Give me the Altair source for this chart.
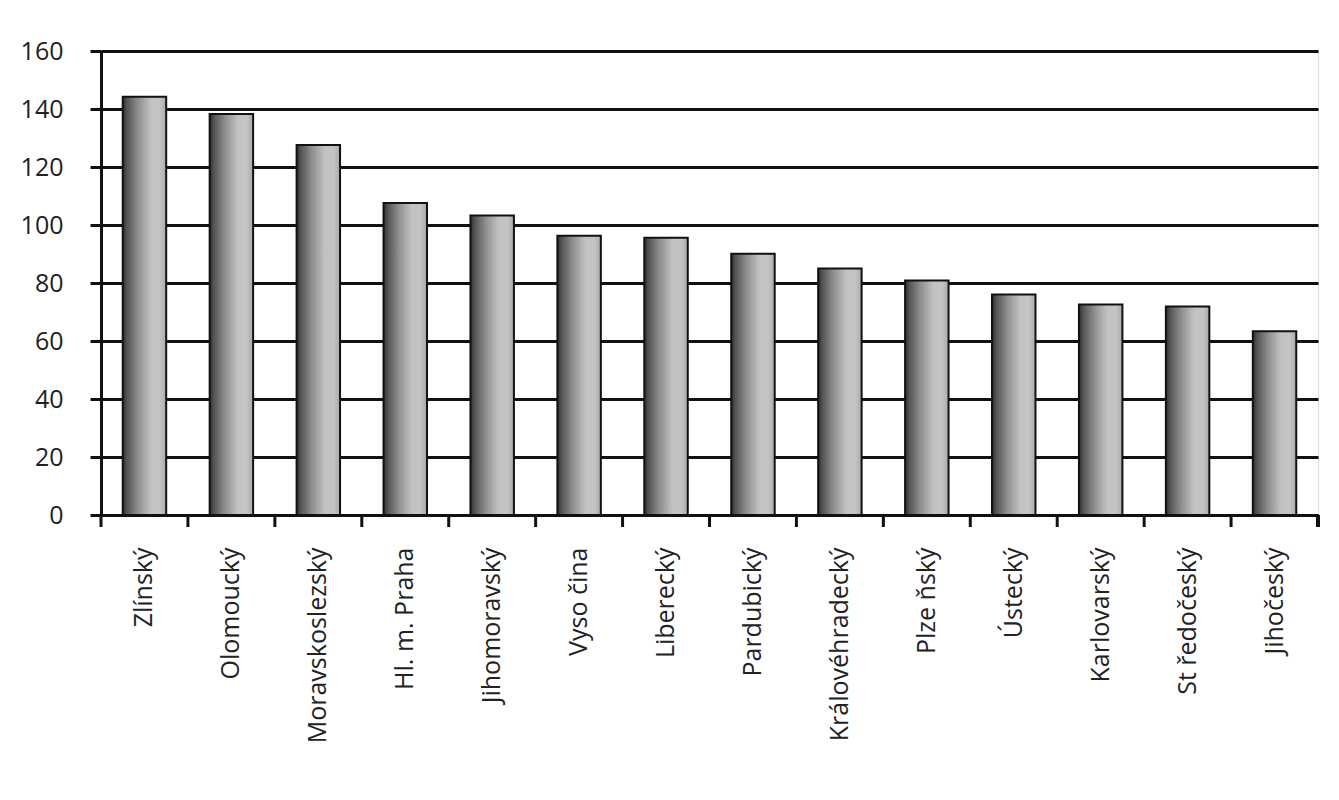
import altair as alt
import pandas as pd

regions = ["Zlínský", "Olomoucký", "Moravskoslezský", "Hl. m. Praha", "Jihomoravský",
           "Vyso čina", "Liberecký", "Pardubický", "Královéhradecký", "Plze ňský",
           "Ústecký", "Karlovarský", "St ředočeský", "Jihočeský"]
values = [144.2, 138.3, 127.6, 107.6, 103.3, 96.3, 95.6, 90.1, 85.0, 80.9, 76.0, 72.6, 71.9, 63.4]

df = pd.DataFrame({"region": regions, "value": values})

W, H = 1217, 464
STEP = W / len(regions)
FONT = "Open Sans"

grad = alt.Gradient(
    gradient="linear", x1=0, x2=1, y1=0, y2=0,
    stops=[
        alt.GradientStop(color="#2e2e2e", offset=0.0),
        alt.GradientStop(color="#555555", offset=0.1),
        alt.GradientStop(color="#8e8e8e", offset=0.35),
        alt.GradientStop(color="#c2c2c2", offset=0.65),
        alt.GradientStop(color="#c4c4c4", offset=0.85),
        alt.GradientStop(color="#a9a9a9", offset=1.0),
    ],
)

xscale = alt.Scale(paddingInner=0.5, paddingOuter=0.25)

bars = alt.Chart(df).mark_bar(color=grad, stroke="#111111", strokeWidth=2).encode(
    x=alt.X("region:N", sort=None, scale=xscale, title=None,
            axis=alt.Axis(labelAngle=-90, labelFontSize=25, labelFont=FONT, labelColor="#222222",
                          labelPadding=32, labelLimit=0, ticks=False, domainColor="#111111",
                          domainWidth=3, grid=False)),
    y=alt.Y("value:Q", scale=alt.Scale(domain=[0, 160]), title=None,
            axis=alt.Axis(values=[0, 20, 40, 60, 80, 100, 120, 140, 160], labelFontSize=25,
                          labelFont=FONT, labelColor="#222222", labelPadding=27,
                          tickSize=11, tickWidth=3, tickColor="#111111",
                          domainColor="#111111", domainWidth=3,
                          grid=True, gridColor="#111111", gridWidth=3)),
)

ticks = alt.Chart(df).mark_rule(color="#111111", strokeWidth=3, xOffset=-STEP * 0.25).encode(
    x=alt.X("region:N", sort=None, scale=xscale, bandPosition=0),
    y=alt.value(H),
    y2=alt.value(H + 12),
)

end_tick = alt.Chart(df).mark_rule(color="#111111", strokeWidth=3).encode(
    x=alt.value(W),
    y=alt.value(H),
    y2=alt.value(H + 12),
)

chart = alt.layer(bars, ticks, end_tick).properties(
    width=W, height=H,
    autosize=alt.AutoSizeParams(type="none"),
    padding={"left": 93, "top": 43, "right": 13, "bottom": 270},
).configure_view(stroke="#111111", strokeWidth=2.5).configure(background="white")

chart.save("out.html", embed_options={"renderer": "svg", "actions": False})
